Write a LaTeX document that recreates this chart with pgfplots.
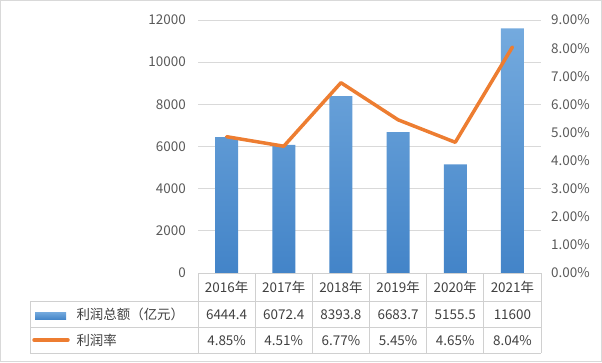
\documentclass[border=0pt]{standalone}
\usepackage{pgfplots}
\pgfplotsset{compat=1.18}
\usepackage{fontspec}
\setmainfont{Noto Sans CJK SC}
\definecolor{gridc}{HTML}{D9D9D9}
\definecolor{tblc}{HTML}{D0D0D0}
\definecolor{txt}{HTML}{595959}
\definecolor{tbltxt}{HTML}{404040}
\definecolor{barT}{HTML}{74AADE}
\definecolor{barB}{HTML}{4384C8}
\definecolor{orng}{HTML}{ED7D31}
\pgfplotsset{/pgf/number format/assume math mode=true}
\begin{document}
\begin{tikzpicture}[x=1bp,y=1bp, font=\fontsize{13.5}{15}\selectfont]
\useasboundingbox (0,0) rectangle (602,-362);
\draw[gridc, line width=0.75bp] (0.5,-0.5) rectangle (601.5,-361.5);
\begin{axis}[at={(198bp,-273bp)}, anchor=south west, scale only axis,
  width=343bp, height=253bp,
  xmin=-0.5, xmax=5.5, ymin=0, ymax=12000,
  ytick={0,2000,...,12000}, xtick=\empty,
  axis line style={draw=none},
  ymajorgrids, grid style={gridc, line width=0.75bp},
  major tick length=0pt,
  yticklabel style={txt, inner sep=0pt, xshift=-12bp},
  /pgf/number format/1000 sep={},
  scaled y ticks=false,
  clip=false]
\addplot[ybar, bar width=23bp, draw=none, top color=barT, bottom color=barB]
  coordinates {(0,6444.4)(1,6072.4)(2,8393.8)(3,6683.7)(4,5155.5)(5,11600)};
\end{axis}
\begin{axis}[at={(198bp,-273bp)}, anchor=south west, scale only axis,
  width=343bp, height=253bp,
  xmin=-0.5, xmax=5.5, ymin=0, ymax=9,
  ytick={0,1,...,9}, xtick=\empty,
  axis line style={draw=none},
  yticklabel pos=right,
  major tick length=0pt,
  yticklabel={\pgfmathprintnumber[fixed,fixed zerofill,precision=2]{\tick}\%},
  yticklabel style={txt, inner sep=0pt, anchor=west, xshift=10bp},
  clip=false]
\addplot[orng, line width=3.5bp, line join=round, line cap=round]
  coordinates {(0,4.85)(1,4.51)(2,6.77)(3,5.45)(4,4.65)(5,8.04)};
\end{axis}
% data table
\begin{scope}[tblc, line width=0.75bp]
\draw (198,-273) -- (541,-273);
\draw (30,-301.5) -- (541,-301.5);
\draw (30,-327) -- (541,-327);
\draw (30,-353) -- (541,-353);
\draw (30,-301.5) -- (30,-353);
\foreach \i in {0,...,6} \draw ({198+\i*57.1667},-273) -- ({198+\i*57.1667},-353);
\end{scope}
\foreach \lab [count=\i from 0] in {2016年,2017年,2018年,2019年,2020年,2021年}
  \node[tbltxt] at ({198+(\i+0.5)*57.1667},-287.5) {\lab};
\foreach \lab [count=\i from 0] in {6444.4,6072.4,8393.8,6683.7,5155.5,11600}
  \node[tbltxt] at ({198+(\i+0.5)*57.1667},-314.5) {\lab};
\foreach \lab [count=\i from 0] in {4.85\%,4.51\%,6.77\%,5.45\%,4.65\%,8.04\%}
  \node[tbltxt] at ({198+(\i+0.5)*57.1667},-340.5) {\lab};
\shade[top color=barT, bottom color=barB] (35,-312) rectangle (66,-319.5);
\draw[orng, line width=3.5bp, line cap=round] (34,-340) -- (68,-340);
\node[tbltxt, anchor=west] at (73,-314.5) {利润总额（亿元）};
\node[tbltxt, anchor=west] at (73,-340.5) {利润率};
\end{tikzpicture}
\end{document}
